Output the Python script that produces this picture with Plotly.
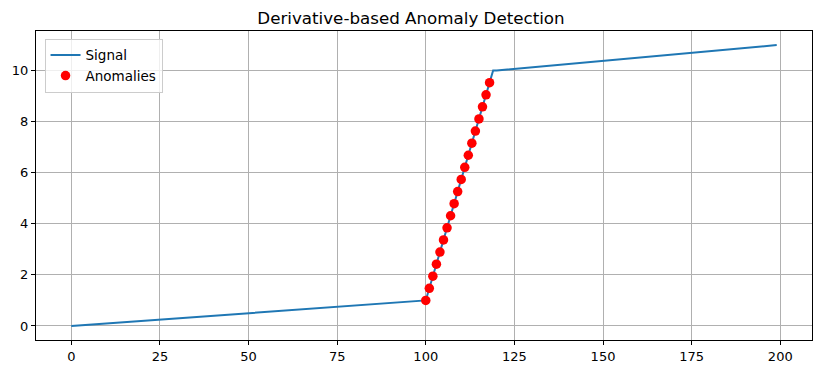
import plotly.graph_objects as go

# Signal vertices (piecewise linear)
signal_x = [0, 99, 100, 119, 120, 199]
signal_y = [0.0, 1.0, 1.0, 10.0, 10.0, 11.0]

# Detected anomalies
anom_x = [100, 101, 102, 103, 104, 105, 106, 107, 108, 109,
          110, 111, 112, 113, 114, 115, 116, 117, 118]
anom_y = [1.0, 1.474, 1.947, 2.421, 2.895, 3.368, 3.842, 4.316, 4.789, 5.263,
          5.737, 6.211, 6.684, 7.158, 7.632, 8.105, 8.579, 9.053, 9.526]

x_ticks = [0, 25, 50, 75, 100, 125, 150, 175, 200]
y_ticks = [0, 2, 4, 6, 8, 10]

fig = go.Figure()
fig.add_trace(go.Scatter(x=signal_x, y=signal_y, mode="lines", name="Signal",
                         line=dict(color="#1f77b4", width=2)))
fig.add_trace(go.Scatter(x=anom_x, y=anom_y, mode="markers", name="Anomalies",
                         marker=dict(color="red", size=9.5, line=dict(width=0))))

axis_common = dict(showline=True, linecolor="black", linewidth=1, mirror=True,
                   showgrid=True, gridcolor="#b0b0b0", gridwidth=0.8,
                   ticks="outside", ticklen=4, tickcolor="black", zeroline=False,
                   automargin=False,
                   tickfont=dict(family="DejaVu Sans", size=13, color="black"))

fig.update_layout(
    width=822, height=374,
    margin=dict(l=36, r=10, t=31, b=34),
    paper_bgcolor="white", plot_bgcolor="white",
    title=dict(text="Derivative-based Anomaly Detection", x=0.5, xanchor="center",
               y=0.952, yanchor="middle",
               font=dict(family="DejaVu Sans", size=16.7, color="black")),
    xaxis=dict(range=[-9.95, 208.95], tickvals=x_ticks, **axis_common),
    yaxis=dict(range=[-0.55, 11.55], tickvals=y_ticks, **axis_common),
    legend=dict(x=0.011, y=0.975, xanchor="left", yanchor="top",
                bgcolor="rgba(255,255,255,0.8)", bordercolor="#cccccc", borderwidth=1,
                font=dict(family="DejaVu Sans", size=13.5, color="black")),
    showlegend=True,
)

fig.write_html("out.html", config={"displayModeBar": False},
               post_script="document.body.style.margin='0';document.body.style.padding='0';")
